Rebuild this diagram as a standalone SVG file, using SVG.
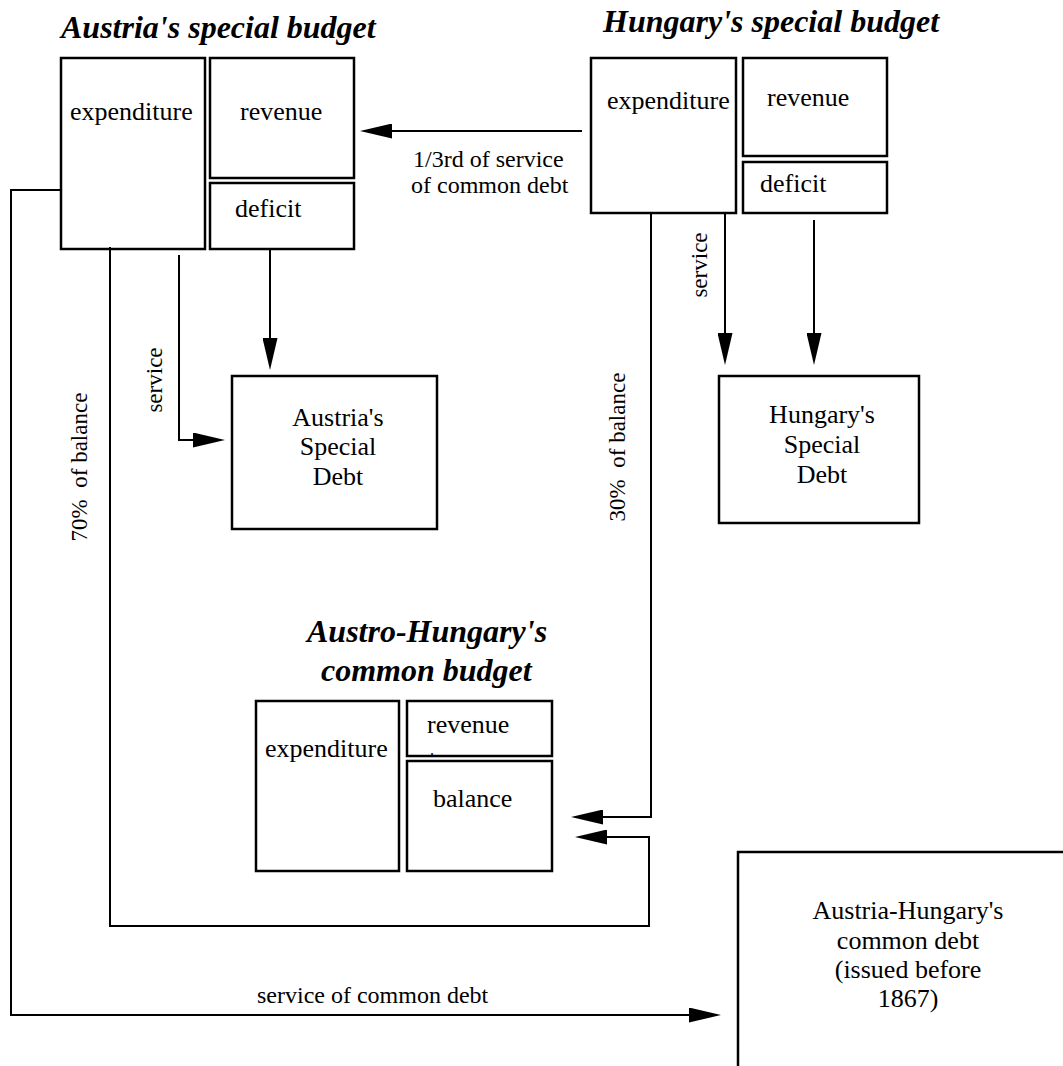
<svg xmlns="http://www.w3.org/2000/svg" width="1063" height="1066" viewBox="0 0 1063 1066">
<style>
  .box { fill: none; stroke: #000; stroke-width: 2.5; }
  .ln { fill: none; stroke: #000; stroke-width: 2; }
  .t { font-family: "Liberation Serif", "Times New Roman", serif; font-size: 26px; fill: #000; }
  .lbl { font-family: "Liberation Serif", "Times New Roman", serif; font-size: 24px; fill: #000; white-space: pre; }
  .rl { font-family: "Liberation Serif", "Times New Roman", serif; font-size: 23px; fill: #000; white-space: pre; text-anchor: middle; }
  .title { font-family: "Liberation Serif", "Times New Roman", serif; font-size: 32px; font-weight: bold; font-style: italic; fill: #000; }
  .c { text-anchor: middle; }
  .dot { font-family: "Liberation Serif", "Times New Roman", serif; font-size: 16px; fill: #000; }
</style>
<defs>
  <marker id="ah" viewBox="0 0 32 15" markerWidth="32" markerHeight="15" refX="0" refY="7.5" orient="auto" markerUnits="userSpaceOnUse">
    <path d="M0,0 L32,7.5 L0,15 z" fill="#000"/>
  </marker>
</defs>
<rect width="1063" height="1066" fill="#fff"/>

<!-- Titles -->
<text class="title" x="61" y="38">Austria's special budget</text>
<text class="title" x="603" y="32">Hungary's special budget</text>
<text class="title" x="307" y="642">Austro-Hungary's</text>
<text class="title" x="321" y="681">common budget</text>

<!-- Austria special budget -->
<g id="austria-expenditure">
  <rect class="box" x="61" y="58" width="144" height="191"/>
  <text class="t" x="70" y="120">expenditure</text>
</g>
<g id="austria-revenue">
  <rect class="box" x="210" y="58" width="144" height="120"/>
  <text class="t" x="240" y="120">revenue</text>
</g>
<g id="austria-deficit">
  <rect class="box" x="210" y="183" width="144" height="66"/>
  <text class="t" x="235" y="217">deficit</text>
</g>

<!-- Hungary special budget -->
<g id="hungary-expenditure">
  <rect class="box" x="591" y="58" width="145" height="155"/>
  <text class="t" x="607" y="109">expenditure</text>
</g>
<g id="hungary-revenue">
  <rect class="box" x="743" y="58" width="144" height="98"/>
  <text class="t" x="767" y="106">revenue</text>
</g>
<g id="hungary-deficit">
  <rect class="box" x="743" y="162" width="144" height="51"/>
  <text class="t" x="760" y="192">deficit</text>
</g>

<!-- Special debts -->
<g id="austria-special-debt">
  <rect class="box" x="232" y="376" width="205" height="153"/>
  <text class="t c" x="338" y="426">Austria's</text>
  <text class="t c" x="338" y="455">Special</text>
  <text class="t c" x="338" y="485">Debt</text>
</g>
<g id="hungary-special-debt">
  <rect class="box" x="719" y="376" width="200" height="147"/>
  <text class="t c" x="822" y="423">Hungary's</text>
  <text class="t c" x="822" y="453">Special</text>
  <text class="t c" x="822" y="483">Debt</text>
</g>

<!-- Common budget -->
<g id="common-expenditure">
  <rect class="box" x="256" y="701" width="143" height="170"/>
  <text class="t" x="265" y="757">expenditure</text>
</g>
<g id="common-revenue">
  <rect class="box" x="407" y="701" width="145" height="55"/>
  <text class="t" x="427" y="733">revenue</text>
  <text class="dot" x="430" y="755">.</text>
</g>
<g id="common-balance">
  <rect class="box" x="407" y="761" width="145" height="110"/>
  <text class="t" x="433" y="807">balance</text>
</g>

<!-- Common debt -->
<g id="common-debt">
  <rect class="box" x="738" y="852" width="400" height="300"/>
  <text class="t c" x="908" y="919">Austria-Hungary's</text>
  <text class="t c" x="908" y="949">common debt</text>
  <text class="t c" x="908" y="978">(issued before</text>
  <text class="t c" x="908" y="1007">1867)</text>
</g>

<!-- Connectors -->
<g id="connectors">
  <path class="ln" d="M582,131 H392" marker-end="url(#ah)"/>
  <path class="ln" d="M270,249 V338" marker-end="url(#ah)"/>
  <path class="ln" d="M179,255 V440 H193" marker-end="url(#ah)"/>
  <path class="ln" d="M725,213 V333" marker-end="url(#ah)"/>
  <path class="ln" d="M814,220 V333" marker-end="url(#ah)"/>
  <path class="ln" d="M651,213 V817 H603" marker-end="url(#ah)"/>
  <path class="ln" d="M110,247 V926 H649 V837 H607" marker-end="url(#ah)"/>
  <path class="ln" d="M61,190 H11 V1015 H689" marker-end="url(#ah)"/>

  <text class="lbl" x="413" y="167">1/3rd of service</text>
  <text class="lbl" x="411" y="193">of common debt</text>
  <text class="lbl" x="257" y="1003">service of common debt</text>
  <text class="rl" x="162" y="380" transform="rotate(-90 162 380)">service</text>
  <text class="rl" x="87" y="467" transform="rotate(-90 87 467)">70%  of balance</text>
  <text class="rl" x="707" y="265" transform="rotate(-90 707 265)">service</text>
  <text class="rl" x="625" y="447" transform="rotate(-90 625 447)">30%  of balance</text>
</g>
</svg>
